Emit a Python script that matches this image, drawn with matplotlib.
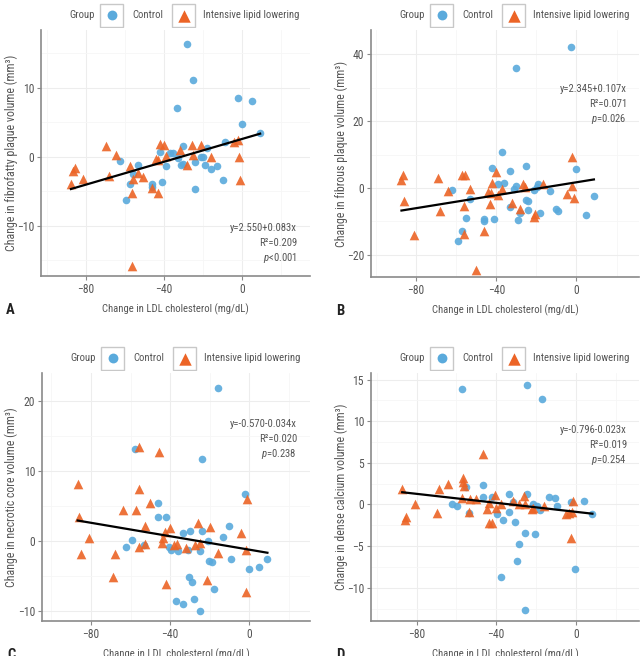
import numpy as np
import matplotlib
matplotlib.use("Agg")
import matplotlib.pyplot as plt
import matplotlib.font_manager as fm
from matplotlib.patches import Rectangle
from matplotlib.ticker import MultipleLocator

# -------------------------------------
# Data (x = change in LDL, y = change in volume)
# -------------------------------------
ctrl_A = [(-28.2, 16.4), (-25.5, 11.1), (-33.3, 7.1), (-2.2, 8.6), (5.1, 8.1), (0.0, 4.8),
          (9.1, 3.4), (-9.0, 2.2), (-30.4, 1.6), (-18.3, 1.3), (-42.3, 0.7), (-37.0, 0.5),
          (-35.4, 0.6), (-62.5, -0.6), (-53.4, -1.2), (-39.2, -1.4), (-32.8, -0.2),
          (-30.3, -1.0), (-31.6, -1.2), (-24.3, -0.7), (-21.0, -0.1), (-20.3, -0.1),
          (-19.1, -1.2), (-16.2, -1.8), (-13.2, -1.3), (-10.1, -3.4), (-24.3, -4.7),
          (-41.2, -3.6), (-46.3, -4.0), (-46.0, -4.4), (-57.4, -4.0), (-55.8, -2.5),
          (-59.4, -6.3)]
ilt_A = [(-87.7, -3.9), (-86.7, -2.1), (-85.8, -1.6), (-81.6, -3.2), (-69.6, 1.6),
         (-68.4, -2.8), (-64.4, 0.2), (-57.5, -1.4), (-55.9, -3.2), (-56.5, -5.3),
         (-56.4, -15.8), (-53.3, -2.4), (-50.6, -2.9), (-46.4, -4.5), (-44.2, -0.3),
         (-43.3, -0.5), (-43.3, -5.3), (-42.2, 1.8), (-40.1, 1.7), (-39.2, 0.1),
         (-32.0, 1.0), (-28.5, -1.2), (-25.9, 1.7), (-25.4, 0.3), (-21.4, 1.7),
         (-16.2, -0.1), (-4.3, 2.2), (-2.3, 2.5), (-1.9, -0.1), (-1.0, -3.3)]

ctrl_B = [(-2.5, 42.3), (-30.3, 36.0), (-37.2, 10.7), (-42.3, 6.0), (-33.3, 5.1), (-25.3, 6.7),
          (-0.2, 5.6), (-62.1, -0.6), (-53.2, -3.3), (-55.2, -8.9), (-57.3, -12.9),
          (-59.1, -15.9), (-46.2, -9.4), (-46.2, -9.9), (-41.2, -9.3), (-39.3, 1.3),
          (-36.2, 1.5), (-31.3, -0.2), (-30.2, 0.5), (-33.3, -5.7), (-28.2, -7.5),
          (-29.3, -9.6), (-25.2, -3.5), (-24.2, -3.9), (-24.2, -6.5), (-21.1, -0.5),
          (-19.7, 0.4), (-19.1, 1.2), (-18.2, -7.5), (-13.2, -0.9), (-10.4, -6.2),
          (-9.3, -6.8), (4.6, -8.0), (8.7, -2.5)]
ilt_B = [(-87.3, 2.5), (-86.5, 3.8), (-86.2, -3.8), (-81.0, -14.2), (-69.1, 3.1), (-68.1, -7.0),
         (-64.0, -0.8), (-56.9, 3.8), (-55.8, 3.9), (-56.1, -5.5), (-56.1, -13.9),
         (-53.1, -0.3), (-50.2, -24.5), (-46.0, -12.8), (-44.2, -1.2), (-42.8, -1.6),
         (-43.2, -4.9), (-42.3, 1.4), (-40.3, 4.8), (-39.2, -2.0), (-37.0, -0.3),
         (-32.3, -4.6), (-28.3, -6.2), (-26.5, 1.1), (-25.5, 0.3), (-21.2, -8.7),
         (-20.6, -7.8), (-16.6, 1.2), (-4.8, -1.9), (-2.4, 9.3), (-2.3, 0.6), (-1.4, -2.9)]

ctrl_C = [(-16.0, 21.8), (-57.6, 13.2), (-24.0, 11.7), (-2.0, 6.7), (-46.0, 5.4), (-46.0, 3.4),
          (-42.0, 3.4), (-10.1, 2.2), (-24.0, 1.5), (-29.9, 1.5), (-33.3, 1.2), (-13.1, 0.6),
          (-20.7, 0.0), (-59.2, 0.1), (-62.2, -0.8), (-53.4, -0.6), (-40.8, -0.8),
          (-39.5, -1.3), (-35.8, -1.4), (-31.1, -1.3), (-24.9, -1.4), (-20.2, -2.9),
          (-19.0, -3.0), (-9.1, -2.5), (0.0, -4.0), (5.0, -3.7), (9.1, -2.5), (-30.3, -5.1),
          (-29.1, -5.9), (-37.0, -8.5), (-33.3, -9.0), (-27.9, -8.2), (-24.9, -10.0),
          (-17.8, -6.9)]
ilt_C = [(-86.7, 8.2), (-85.9, 3.5), (-84.9, -1.9), (-80.8, 0.5), (-68.9, -5.1), (-67.7, -1.8),
         (-64.0, 4.4), (-57.0, 4.5), (-55.8, 13.5), (-55.8, 7.5), (-55.8, -0.8), (-52.9, 2.1),
         (-52.9, -0.4), (-50.1, 5.4), (-45.7, 12.7), (-44.2, -0.2), (-43.4, 0.4),
         (-42.7, 1.3), (-42.0, -6.1), (-40.0, 1.9), (-38.0, -0.5), (-36.3, -0.4),
         (-31.9, -1.0), (-27.7, -0.5), (-26.0, 2.6), (-24.9, -0.2), (-21.2, -5.6),
         (-19.8, 2.0), (-16.0, -1.7), (-4.0, 1.2), (-1.7, -7.3), (-1.0, 6.0), (-1.7, -1.2)]

ctrl_D = [(-57.4, 13.9), (-24.5, 14.3), (-16.8, 12.7), (-46.5, 2.4), (-55.4, 2.1), (-46.5, 0.9),
          (-33.6, 1.3), (-24.5, 1.3), (-13.4, 0.9), (-10.6, 0.8), (-62.4, 0.1), (-59.6, -0.2),
          (-53.5, -1.0), (-42.3, 0.9), (-39.4, -1.1), (-36.4, -1.9), (-33.6, -0.9),
          (-31.5, 0.3), (-30.5, -2.1), (-21.5, 0.1), (-19.3, -0.2), (-18.1, -0.7),
          (-9.6, -0.2), (-2.5, 0.3), (4.2, 0.4), (8.4, -1.1), (-25.5, -3.4), (-20.6, -3.6),
          (-28.5, -4.7), (-29.5, -6.8), (-37.4, -8.7), (-0.5, -7.7), (-25.7, -12.7)]
ilt_D = [(-87.2, 1.9), (-85.9, -1.9), (-85.2, -1.5), (-81.0, 0.1), (-69.5, -1.0), (-68.5, 1.9),
         (-64.3, 2.5), (-56.5, 3.2), (-56.5, 2.7), (-56.2, 2.2), (-57.0, 0.8), (-53.4, -0.9),
         (-53.2, 0.7), (-50.3, 0.7), (-46.5, 6.1), (-44.8, -0.6), (-43.6, -2.2),
         (-42.3, -2.2), (-43.6, 0.2), (-40.8, 1.2), (-39.9, -0.4), (-37.4, 0.1),
         (-31.4, 0.4), (-28.5, 0.1), (-26.0, 1.0), (-25.5, 0.0), (-22.1, -0.6),
         (-21.5, -0.4), (-15.9, -0.2), (-5.0, -1.1), (-3.4, -1.0), (-2.5, -4.0),
         (-1.3, 0.4), (-2.0, -0.9)]

# fitted line as drawn (intercept, slope) and printed statistics
fit_lines = {"A": (2.60, 0.083), "B": (1.68, 0.097), "C": (-1.22, -0.048), "D": (-0.88, -0.027)}
equations = {"A": "y=2.550+0.083x", "B": "y=2.345+0.107x",
             "C": "y=-0.570-0.034x", "D": "y=-0.796-0.023x"}
r2_text = {"A": "0.209", "B": "0.071", "C": "0.020", "D": "0.019"}
p_text = {"A": "<0.001", "B": "=0.026", "C": "=0.238", "D": "=0.254"}
ylabels = {"A": "Change in fibrofatty plaque volume (mm³)",
           "B": "Change in fibrous plaque volume (mm³)",
           "C": "Change in necrotic core volume (mm³)",
           "D": "Change in dense calcium volume (mm³)"}
yticks = {"A": [-10, 0, 10], "B": [-20, 0, 20, 40], "C": [-10, 0, 10, 20],
          "D": [-10, -5, 0, 5, 10, 15]}
xticks = [-80, -40, 0]
groups = ["Control", "Intensive lipid lowering"]

# -------------------------------------
# Font: a narrow face if one is installed, otherwise a compact one, smaller
# -------------------------------------
entries = fm.fontManager.ttflist
names = {e.name for e in entries}
stretch = "normal"
if "Liberation Sans Narrow" in names:
    fam, scale = "Liberation Sans Narrow", 1.1
elif "Roboto Condensed" in names:
    fam, scale = "Roboto Condensed", 1.1
elif any(e.name == "DejaVu Sans" and e.stretch == "condensed" for e in entries):
    fam, scale, stretch = "DejaVu Sans", 1.0, "condensed"
else:
    fam, scale = "Roboto", 0.95

fs_tick = 7.6 * scale
fs_xlab = 7.0 * scale
fs_ylab = 7.8 * scale
fs_leg = 7.0 * scale
fs_note = 7.0 * scale

plt.rcParams["font.family"] = [fam, "DejaVu Sans"]
plt.rcParams["font.stretch"] = stretch
plt.rcParams["mathtext.fontset"] = "custom"
plt.rcParams["mathtext.rm"] = fam
plt.rcParams["mathtext.it"] = fam + ":italic"

# -------------------------------------
# Layout (pixels)
# -------------------------------------
W, H = 644, 656
blue = "#5aaadc"
orange = "#ec6426"
txt = "#555555"

panels = {
    "A": dict(box=(41, 30, 310, 276), xlim=(-103, 34.6), ylim=(-17.3, 18.4),
              ymin=5, note=(297, 228), data=(ctrl_A, ilt_A)),
    "B": dict(box=(371, 30, 639, 277), xlim=(-102.5, 31.2), ylim=(-26.7, 47.3),
              ymin=10, note=(627, 89), data=(ctrl_B, ilt_B)),
    "C": dict(box=(42, 373, 310, 621), xlim=(-104.7, 30.6), ylim=(-11.4, 24.0),
              ymin=5, note=(297, 424), data=(ctrl_C, ilt_C)),
    "D": dict(box=(371, 373, 639, 621), xlim=(-102.9, 31.8), ylim=(-14.0, 15.8),
              ymin=2.5, note=(627, 430), data=(ctrl_D, ilt_D)),
}


def rect(l, t, r, b):
    return [l / W, 1 - b / H, (r - l) / W, (b - t) / H]


fig = plt.figure(figsize=(W / 100, H / 100), dpi=100)

for key, p in panels.items():
    l, t, r, b = p["box"]
    ax = fig.add_axes(rect(l, t, r, b))
    ctrl, ilt = p["data"]
    cx, cy = np.array(ctrl).T
    ix, iy = np.array(ilt).T
    ax.scatter(cx, cy, s=30, marker="o", color=blue, alpha=0.9, linewidths=0, zorder=3)
    ax.scatter(ix, iy, s=48, marker="^", color=orange, alpha=0.9, linewidths=0, zorder=3)

    # regression line over the data range
    a, k = fit_lines[key]
    allx = np.concatenate([cx, ix])
    xs = np.array([allx.min(), allx.max()])
    ax.plot(xs, a + k * xs, color="black", lw=1.6, zorder=4)

    ax.set_xlim(*p["xlim"])
    ax.set_ylim(*p["ylim"])
    ax.set_xticks(xticks)
    ax.set_yticks(yticks[key])
    ax.xaxis.set_minor_locator(MultipleLocator(20))
    ax.yaxis.set_minor_locator(MultipleLocator(p["ymin"]))
    ax.grid(True, which="major", color="#ededed", lw=0.8)
    ax.grid(True, which="minor", color="#f6f6f6", lw=0.6)
    ax.set_axisbelow(True)
    for s in ["top", "right"]:
        ax.spines[s].set_visible(False)
    for s in ["left", "bottom"]:
        ax.spines[s].set_color("#8a8a8a")
        ax.spines[s].set_linewidth(1.2)
    ax.tick_params(which="major", length=3, width=0.8, color="#8a8a8a",
                   labelcolor=txt, labelsize=fs_tick, pad=2)
    ax.tick_params(which="minor", length=0)
    ax.set_xlabel("Change in LDL cholesterol (mg/dL)", color=txt, fontsize=fs_xlab, va="center")
    ax.xaxis.set_label_coords(0.5, -33 / (b - t))
    ax.set_ylabel(ylabels[key], color=txt, fontsize=fs_ylab, va="center")
    ax.yaxis.set_label_coords(-(l - 11 - (0 if l < 300 else 330)) / (r - l), 0.5)

    # statistics text
    nx, ny = p["note"]
    lines = [equations[key], "R²=" + r2_text[key], r"$\it{p}$" + p_text[key]]
    for i, s in enumerate(lines):
        fig.text(nx / W, 1 - (ny + 15 * i) / H, s, ha="right", va="center",
                 color=txt, fontsize=fs_note)

    # panel letter
    fig.text((l - 35) / W, 1 - (b + 34) / H, key, fontsize=10.5, fontweight="bold",
             color="#222222", ha="left", va="center")

    # legend row on top of the panel
    lg = fig.add_axes(rect(l, t - 28, l + 270, t - 2))
    lg.set_xlim(0, 270)
    lg.set_ylim(0, 26)
    lg.axis("off")
    lg.text(28, 13, "Group", color=txt, fontsize=fs_leg, va="center", ha="left")
    lg.add_patch(Rectangle((59, 1.5), 23, 23, facecolor="white", edgecolor="#c8c8c8", lw=1))
    lg.scatter([70.5], [13], s=50, marker="o", color=blue, linewidths=0)
    lg.text(91, 13, groups[0], color=txt, fontsize=fs_leg, va="center", ha="left")
    lg.add_patch(Rectangle((131, 1.5), 23, 23, facecolor="white", edgecolor="#c8c8c8", lw=1))
    lg.scatter([142.5], [12], s=80, marker="^", color=orange, linewidths=0)
    lg.text(162, 13, groups[1], color=txt, fontsize=fs_leg, va="center", ha="left")

fig.savefig("out.png", dpi=100)
